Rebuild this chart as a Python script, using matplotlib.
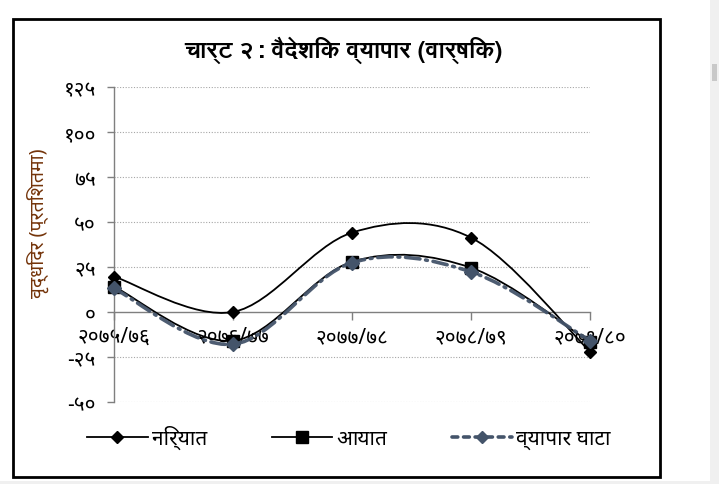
import matplotlib
matplotlib.use('Agg')
import matplotlib.pyplot as plt
from matplotlib.path import Path
from matplotlib.patches import PathPatch, Rectangle
from matplotlib.lines import Line2D
import numpy as np

plt.rcParams['font.family'] = ['Noto Sans', 'DejaVu Sans']

# ---- data ----
categories = ['२०७५/७६', '२०७६/७७', '२०७७/७८', '२०७८/७९', '२०७९/८०']
export_growth = [19.7, 0.0, 44.1, 41.3, -22.0]
import_growth = [14.1, -16.0, 27.9, 24.6, -16.8]
deficit_growth = [13.1, -17.9, 27.4, 22.3, -15.9]
ytick_values = [-50, -25, 0, 25, 50, 75, 100, 125]
ytick_labels = ['-५०', '-२५', '०', '२५', '५०', '७५', '१००', '१२५']
series_names = ['निर्यात', 'आयात', 'व्यापार घाटा']
title = 'चार्ट २: वैदेशिक व्यापार (वार्षिक)'
ylabel = 'वृद्धिदर (प्रतिशतमा)'

W, H = 719, 485
fig = plt.figure(figsize=(W / 100, H / 100), dpi=100)
ax = fig.add_axes([114 / W, 1 - 403 / H, 476 / W, 315 / H])

x = np.arange(len(categories))


def smooth_path(xs, ys):
    """Excel-like smoothed line: cubic Bezier segments through the points."""
    pts = np.column_stack([xs, ys]).astype(float)
    n = len(pts)
    verts = [pts[0]]
    codes = [Path.MOVETO]
    for i in range(n - 1):
        p0 = pts[i - 1] if i > 0 else pts[i]
        p1 = pts[i]
        p2 = pts[i + 1]
        p3 = pts[i + 2] if i + 2 < n else pts[i + 1]
        c1 = p1 + (p2 - p0) / 6.0
        c2 = p2 - (p3 - p1) / 6.0
        verts += [c1, c2, p2]
        codes += [Path.CURVE4] * 3
    return Path(verts, codes)


dark = '#44546A'
# export
ax.add_patch(PathPatch(smooth_path(x, export_growth), fill=False, ec='black', lw=1.3, zorder=3))
ax.plot(x, export_growth, ls='none', marker='D', ms=6.5, color='black', clip_on=False, zorder=4)
# import
ax.add_patch(PathPatch(smooth_path(x, import_growth), fill=False, ec='black', lw=1.3, zorder=3))
ax.plot(x, import_growth, ls='none', marker='s', ms=9, color='black', clip_on=False, zorder=4)
# deficit
dash = (0, (4, 1.6, 0.5, 1.6))
ax.add_patch(PathPatch(smooth_path(x, deficit_growth), fill=False, ec=dark, lw=2.6,
                       linestyle=dash, capstyle='round', zorder=5, alpha=0.95))
ax.plot(x, deficit_growth, ls='none', marker='D', ms=7, color=dark, clip_on=False, zorder=6)

ax.set_xlim(0, len(categories) - 1)
ax.set_ylim(-50, 125)

# grid
ax.set_yticks(ytick_values)
ax.set_yticklabels(ytick_labels)
for v in ytick_values:
    if v != 0:
        ax.axhline(v, color='#A6A6A6', lw=0.8, ls=(0, (1, 1.5)), zorder=1)

for s in ['top', 'right']:
    ax.spines[s].set_visible(False)
ax.spines['left'].set_color('#7F7F7F')
ax.spines['left'].set_linewidth(1.0)
ax.spines['bottom'].set_position(('data', 0))
ax.spines['bottom'].set_color('#7F7F7F')
ax.spines['bottom'].set_linewidth(1.0)

ax.set_xticks(x)
ax.set_xticklabels(categories)
ax.tick_params(axis='x', direction='out', length=6, width=1.0, color='#7F7F7F',
               pad=4, labelsize=15)
ax.tick_params(axis='y', direction='out', length=5, width=1.0, color='#7F7F7F',
               pad=8, labelsize=15)
ax.set_facecolor('none')

# y label
fig.text(38 / W, 1 - 223 / H, ylabel, rotation=90, ha='center', va='center',
         fontsize=14, color='#74340A')

# title
fig.text(343 / W, 1 - 50 / H, title, ha='center', va='center', fontsize=17.5,
         fontweight='bold', family=['FreeSans', 'Noto Sans', 'DejaVu Sans'])

# legend
handles = [
    Line2D([], [], color='black', lw=1.3, marker='D', ms=6.5),
    Line2D([], [], color='black', lw=1.3, marker='s', ms=9),
    Line2D([], [], color=dark, lw=2.6, ls=(0, (1.6, 1.6)), marker='D', ms=6,
           dash_capstyle='round'),
]
fig.legend(handles, series_names, loc='center', bbox_to_anchor=(349 / W, 1 - 438 / H),
           ncol=3, frameon=False, fontsize=15, handlelength=2.9, columnspacing=3.1,
           handletextpad=0.2)

# outer chart frame
fig.add_artist(Rectangle((13 / W, 1 - 478 / H), (660 - 13) / W, (478 - 20) / H,
                         transform=fig.transFigure, fill=False, ec='black', lw=2.0))
# screenshot side strip
fig.add_artist(Rectangle((710 / W, 0), 9 / W, 1, transform=fig.transFigure,
                         fc='#F0F0F0', ec='none'))
fig.add_artist(Rectangle((712 / W, 1 - 82 / H), 5 / W, 17 / H, transform=fig.transFigure,
                         fc='#C8C8C8', ec='none'))
fig.add_artist(Rectangle((0, 0), 710 / W, 3 / H, transform=fig.transFigure,
                         fc='#F0F0F0', ec='none'))

fig.savefig('out.png', dpi=100)
